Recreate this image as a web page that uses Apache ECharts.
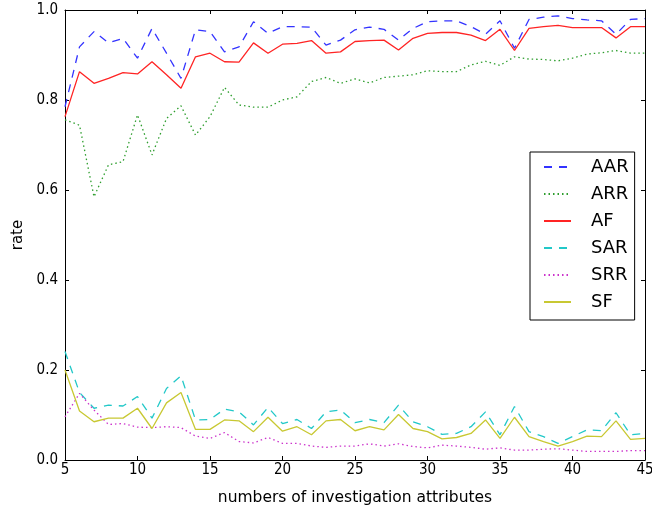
<!DOCTYPE html>
<html>
<head>
<meta charset="utf-8">
<script src="https://cdn.jsdelivr.net/npm/echarts@6/dist/echarts.min.js"></script>
<style>
  html, body { margin: 0; padding: 0; background: #fff; }
  #chart { width: 652px; height: 510px; }
</style>
</head>
<body>
<div id="chart"></div>
<script>
// number of investigation attributes (x)
const attrs = [5, 6, 7, 8, 9, 10, 11, 12, 13, 14, 15, 16, 17, 18, 19, 20, 21, 22, 23, 24, 25,
  26, 27, 28, 29, 30, 31, 32, 33, 34, 35, 36, 37, 38, 39, 40, 41, 42, 43, 44, 45];

const aar = [0.785, 0.918, 0.952, 0.927, 0.937, 0.893, 0.959, 0.904, 0.848, 0.956, 0.952,
  0.907, 0.918, 0.974, 0.948, 0.963, 0.963, 0.962, 0.922, 0.933, 0.956, 0.962, 0.957,
  0.933, 0.959, 0.974, 0.976, 0.976, 0.963, 0.946, 0.976, 0.915, 0.979, 0.984, 0.987,
  0.981, 0.978, 0.976, 0.946, 0.979, 0.981];
const arr = [0.756, 0.744, 0.585, 0.656, 0.663, 0.767, 0.678, 0.759, 0.787, 0.722, 0.763,
  0.828, 0.789, 0.784, 0.784, 0.800, 0.807, 0.841, 0.850, 0.837, 0.847, 0.838, 0.850,
  0.853, 0.856, 0.865, 0.863, 0.863, 0.878, 0.886, 0.877, 0.896, 0.891, 0.890, 0.887,
  0.893, 0.902, 0.905, 0.910, 0.904, 0.904];
const af = [0.763, 0.863, 0.837, 0.848, 0.861, 0.858, 0.885, 0.856, 0.826, 0.896, 0.904,
  0.885, 0.884, 0.927, 0.904, 0.924, 0.926, 0.932, 0.904, 0.907, 0.930, 0.932, 0.933,
  0.911, 0.937, 0.948, 0.950, 0.950, 0.944, 0.932, 0.957, 0.910, 0.959, 0.963, 0.966,
  0.961, 0.961, 0.961, 0.938, 0.963, 0.963];
const sar = [0.241, 0.150, 0.115, 0.122, 0.120, 0.141, 0.093, 0.159, 0.187, 0.089, 0.090,
  0.113, 0.107, 0.078, 0.117, 0.081, 0.090, 0.070, 0.107, 0.111, 0.083, 0.090, 0.083,
  0.122, 0.085, 0.074, 0.057, 0.059, 0.074, 0.107, 0.056, 0.119, 0.063, 0.052, 0.037,
  0.052, 0.067, 0.065, 0.105, 0.056, 0.059];
const srr = [0.096, 0.148, 0.111, 0.079, 0.081, 0.073, 0.072, 0.074, 0.072, 0.053, 0.048,
  0.061, 0.041, 0.038, 0.050, 0.037, 0.037, 0.031, 0.028, 0.031, 0.031, 0.036, 0.031,
  0.036, 0.030, 0.027, 0.033, 0.031, 0.028, 0.024, 0.027, 0.022, 0.022, 0.024, 0.025,
  0.022, 0.019, 0.019, 0.019, 0.021, 0.021];
const sf = [0.200, 0.109, 0.085, 0.093, 0.093, 0.115, 0.070, 0.127, 0.150, 0.068, 0.068,
  0.089, 0.087, 0.063, 0.095, 0.064, 0.074, 0.056, 0.087, 0.090, 0.065, 0.074, 0.067,
  0.101, 0.070, 0.063, 0.047, 0.050, 0.059, 0.089, 0.048, 0.095, 0.052, 0.041, 0.031,
  0.041, 0.053, 0.052, 0.087, 0.046, 0.048];

const chart = echarts.init(document.getElementById("chart"));

const font = "DejaVu Sans";
const tickFont = "DejaVu Sans Condensed, DejaVu Sans";

const DASH = [8, 7];
const DOT = [1.5, 3];

const mkSeries = (name, values, color, type) => ({
  name: name,
  type: "line",
  symbol: "none",
  xAxisIndex: 0,
  yAxisIndex: 0,
  lineStyle: { color: color, width: 1.3, type: type },
  itemStyle: { color: color },
  data: attrs.map((x, i) => [x, values[i]]),
});

// matplotlib-like box: ticks inward on every side
const xCommon = {
  type: "value",
  min: 5,
  max: 45,
  interval: 5,
  axisLine: { show: true, onZero: false, lineStyle: { color: "#000", width: 1 } },
  axisTick: { show: true, inside: true, length: 4, lineStyle: { color: "#000" } },
  splitLine: { show: false },
};
const yCommon = {
  type: "value",
  min: 0,
  max: 1,
  interval: 0.2,
  axisLine: { show: true, onZero: false, lineStyle: { color: "#000", width: 1 } },
  axisTick: { show: true, inside: true, length: 4, lineStyle: { color: "#000" } },
  splitLine: { show: false },
};

const option = {
  backgroundColor: "#fff",
  animation: false,
  // fixed plot box; don't let labels at the edge shrink it
  grid: { left: 65, right: 7, top: 10, bottom: 50, containLabel: false, outerBoundsMode: "none" },
  legend: {
    orient: "vertical",
    left: 530,
    top: 152,
    backgroundColor: "#fff",
    borderColor: "#000",
    borderWidth: 1,
    borderRadius: 0,
    padding: [6, 6, 9, 13],
    itemWidth: 27,
    itemHeight: 14,
    itemGap: 9,
    // line only, no marker in the legend
    itemStyle: { opacity: 0 },
    textStyle: {
      fontFamily: font,
      fontSize: 18,
      lineHeight: 18,
      color: "#000",
      padding: [0, 0, 0, 15],
    },
    data: ["AAR", "ARR", "AF", "SAR", "SRR", "SF"],
  },
  xAxis: [
    Object.assign({}, xCommon, {
      position: "bottom",
      name: "numbers of investigation attributes",
      nameLocation: "middle",
      nameGap: 30,
      nameTextStyle: { fontFamily: font, fontSize: 15.5, color: "#000" },
      axisLabel: { fontFamily: tickFont, fontSize: 15, color: "#000", margin: 3 },
    }),
    Object.assign({}, xCommon, { position: "top", axisLabel: { show: false } }),
  ],
  yAxis: [
    Object.assign({}, yCommon, {
      position: "left",
      name: "rate",
      nameLocation: "middle",
      nameGap: 39,
      nameTextStyle: { fontFamily: font, fontSize: 15, color: "#000" },
      axisLabel: {
        fontFamily: tickFont,
        fontSize: 15,
        color: "#000",
        margin: 7,
        formatter: (v) => v.toFixed(1),
      },
    }),
    Object.assign({}, yCommon, { position: "right", axisLabel: { show: false } }),
  ],
  series: [
    mkSeries("AAR", aar, "#3333ff", DASH),
    mkSeries("ARR", arr, "#2e9e2e", DOT),
    mkSeries("AF", af, "#ff2424", "solid"),
    mkSeries("SAR", sar, "#22c8c8", DASH),
    mkSeries("SRR", srr, "#cc33cc", DOT),
    mkSeries("SF", sf, "#c8c832", "solid"),
  ],
};

chart.setOption(option);
</script>
</body>
</html>
